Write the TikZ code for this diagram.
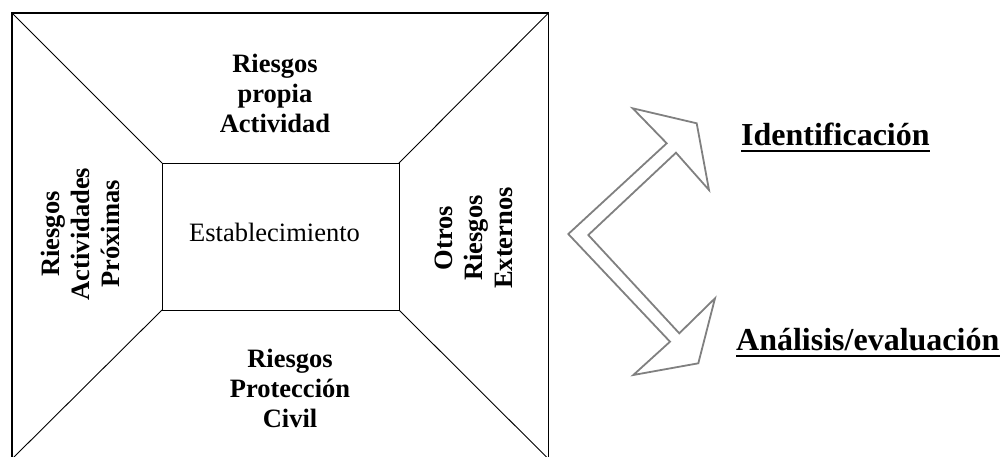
\documentclass[tikz,border=0pt]{standalone}
\usepackage{fontspec}
\setmainfont{Liberation Serif}
\begin{document}
\begin{tikzpicture}[x=1pt,y=-1pt,
  lbl/.style={font=\bfseries\fontsize{26.5}{30}\selectfont, align=center, inner sep=0pt},
  ttl/.style={font=\bfseries\fontsize{32}{36}\selectfont, inner sep=0pt, anchor=base west},
  frame/.style={draw=black, line width=1.3pt},
  diag/.style={draw=black, line width=0.9pt},
  garrow/.style={draw=black!50, line width=1.8pt, line join=miter}]
\useasboundingbox (0,0) rectangle (1002,456);
% frame
\coordinate (o1) at (12,13);
\coordinate (o2) at (548.5,13);
\coordinate (o3) at (548.5,459);
\coordinate (o4) at (12,459);
\coordinate (i1) at (162,163);
\coordinate (i2) at (399,163);
\coordinate (i3) at (399,310);
\coordinate (i4) at (162,310);
\draw[frame] (o1) -- (o2) -- (o3) -- (o4) -- cycle;
\draw[diag] (i1) -- (i2) -- (i3) -- (i4) -- cycle;
\draw[diag] (o1) -- (i1);
\draw[diag] (o2) -- (i2);
\draw[diag] (o3) -- (i3);
\draw[diag] (o4) -- (i4);
% labels
\node[lbl] (top) at (275,93) {Riesgos\\propia\\Actividad};
\node[lbl] (bot) at (290,388) {Riesgos\\Protección\\Civil};
\node[lbl, rotate=90] (lft) at (80,234) {Riesgos\\Actividades\\Próximas};
\node[lbl, rotate=90] (rgt) at (474,238) {Otros\\Riesgos\\Externos};
\node[font=\fontsize{26.5}{30}\selectfont, inner sep=0pt, anchor=base] (est) at (274.5,241) {Establecimiento};
% arrow
\draw[garrow] (568.3,234) -- (666.7,143.3) -- (632.7,108.3) -- (696.7,123.3) -- (709,190) -- (676,152.7) -- (588.3,235) -- (679.3,333.3) -- (715,298.3) -- (698.3,363.3) -- (633.3,375) -- (670,341.7) -- cycle;
% titles
\node[ttl] (id) at (741,145.5) {Identificación};
\draw[line width=2.6pt] ([yshift=-5.5pt]id.base west) -- ([yshift=-5.5pt]id.base east);
\node[ttl] (an) at (736,350.5) {Análisis/evaluación};
\draw[line width=2.6pt] ([yshift=-5.5pt]an.base west) -- ([yshift=-5.5pt]an.base east);
\end{tikzpicture}
\end{document}
